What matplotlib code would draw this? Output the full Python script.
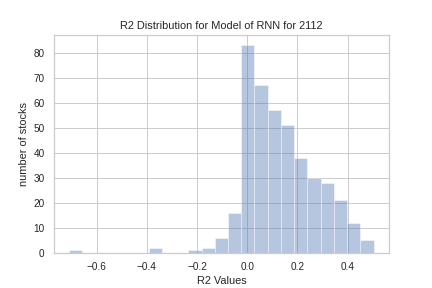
import numpy as np
import matplotlib
matplotlib.use("Agg")
import matplotlib.pyplot as plt
import seaborn as sns

# Data
bin_start = -0.709
bin_end = 0.503
n_bins = 23
counts = [1, 0, 0, 0, 0, 0, 2, 0, 0, 1, 2, 6, 16, 83, 67, 57, 51, 38, 30, 28, 21, 12, 5]
title = "R2 Distribution for Model of RNN for 2112"
xlabel = "R2 Values"
ylabel = "number of stocks"

sns.set_theme(style="whitegrid")
plt.rcParams['font.family'] = ['Liberation Sans', 'DejaVu Sans']

edges = np.linspace(bin_start, bin_end, n_bins + 1)
centers = (edges[:-1] + edges[1:]) / 2

fig = plt.figure(figsize=(6, 4), dpi=72)
ax = fig.add_axes([0.125, 0.123, 0.775, 0.755])
ax.hist(centers, bins=edges, weights=counts, color="#4C72B0", alpha=0.4,
        edgecolor="white", linewidth=1)
ax.set_title(title, fontsize=11)
ax.set_xlabel(xlabel, fontsize=11)
ax.set_ylabel(ylabel, fontsize=11)
ax.tick_params(labelsize=10)
fig.savefig("out.png", dpi=72)
